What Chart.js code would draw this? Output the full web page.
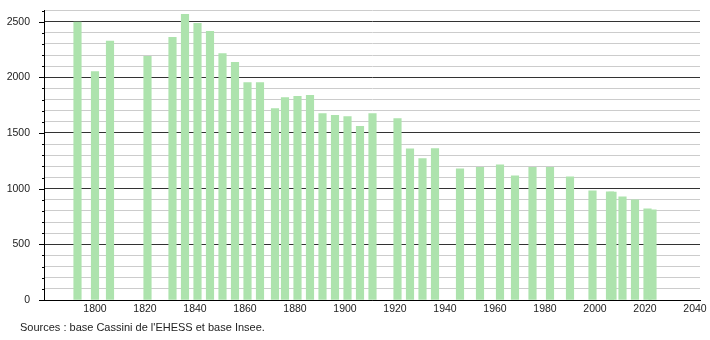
<!DOCTYPE html>
<html>
<head>
<meta charset="utf-8">
<script src="https://cdn.jsdelivr.net/npm/chart.js@4"></script>
<style>
    body { margin: 0; background: #fff; }
    #wrap { position: relative; width: 710px; height: 340px; }
    #sources {
        position: absolute; left: 20px; top: 321px;
        font: 11px "Liberation Sans", Arial, sans-serif; color: #222;
    }
</style>
</head>
<body>
<div id="wrap">
    <canvas id="pop-chart" width="710" height="340"></canvas>
    <div id="sources">Sources : base Cassini de l'EHESS et base Insee.</div>
</div>
<script>
const censusYears = [1793, 1800, 1806, 1821, 1831, 1836, 1841, 1846, 1851, 1856,
    1861, 1866, 1872, 1876, 1881, 1886, 1891, 1896, 1901, 1906,
    1911, 1921, 1926, 1931, 1936, 1946, 1954, 1962, 1968, 1975,
    1982, 1990, 1999, 2006, 2007, 2011, 2016, 2021, 2023];
const population = [2495, 2052, 2325, 2188, 2360, 2566, 2485, 2413, 2214, 2134,
    1953, 1953, 1719, 1818, 1830, 1839, 1674, 1659, 1647, 1560,
    1674, 1629, 1357, 1269, 1359, 1179, 1191, 1215, 1116, 1191,
    1191, 1107, 981, 972, 969, 927, 900, 819, 810];
const xTickYears = [1800, 1820, 1840, 1860, 1880, 1900, 1920, 1940, 1960, 1980, 2000, 2020, 2040];

document.addEventListener('DOMContentLoaded', function () {
    const ctx = document.getElementById('pop-chart');
    const font = { family: '"Liberation Sans", Arial, sans-serif', size: 10.5 };

    // short tick marks on the left axis: longer ones every 500
    const yTickMarks = {
        id: 'yTickMarks',
        afterDraw(chart) {
            const y = chart.scales.y;
            const c = chart.ctx;
            c.save();
            c.strokeStyle = '#000';
            c.lineWidth = 1;
            y.ticks.forEach(t => {
                const py = Math.round(y.getPixelForValue(t.value)) + 0.5;
                const len = t.value % 500 === 0 ? 5 : 2;
                c.beginPath();
                c.moveTo(y.right - len, py);
                c.lineTo(y.right, py);
                c.stroke();
            });
            c.restore();
        }
    };

    new Chart(ctx, {
        type: 'bar',
        data: {
            datasets: [{
                data: censusYears.map((yr, i) => ({ x: yr, y: population[i] })),
                backgroundColor: '#ade3ad',
                barThickness: 7.5
            }]
        },
        options: {
            responsive: false,
            animation: false,
            layout: { padding: { top: 10.5, right: 10, bottom: 10, left: 0 } },
            plugins: {
                legend: { display: false },
                tooltip: { enabled: false }
            },
            scales: {
                x: {
                    type: 'linear',
                    offset: false,
                    min: 1779.6,
                    max: 2042,
                    afterFit(scale) { scale.height = 30; },
                    afterBuildTicks(scale) {
                        scale.ticks = xTickYears.map(v => ({ value: v }));
                    },
                    grid: { display: false, drawTicks: false },
                    border: { display: true, color: '#000', width: 1 },
                    ticks: {
                        padding: 3,
                        font: font,
                        color: '#222',
                        maxRotation: 0,
                        autoSkip: false,
                        callback: v => String(v)
                    }
                },
                y: {
                    min: 0,
                    max: 2600,
                    afterFit(scale) {
                        scale.width = 44;
                        // labels sit beside the ticks, no extra room needed above/below
                        scale.paddingTop = 0;
                        scale.paddingBottom = 0;
                    },
                    grid: {
                        drawTicks: false,
                        color: c => (c.tick && c.tick.value % 500 === 0) ? '#333' : '#cccccc',
                        lineWidth: 1
                    },
                    border: { display: true, color: '#000', width: 1 },
                    ticks: {
                        stepSize: 100,
                        autoSkip: false,
                        padding: 14,
                        font: font,
                        color: '#222',
                        callback: v => v % 500 === 0 ? String(v) : ''
                    }
                }
            }
        },
        plugins: [yTickMarks]
    });
});
</script>
</body>
</html>
